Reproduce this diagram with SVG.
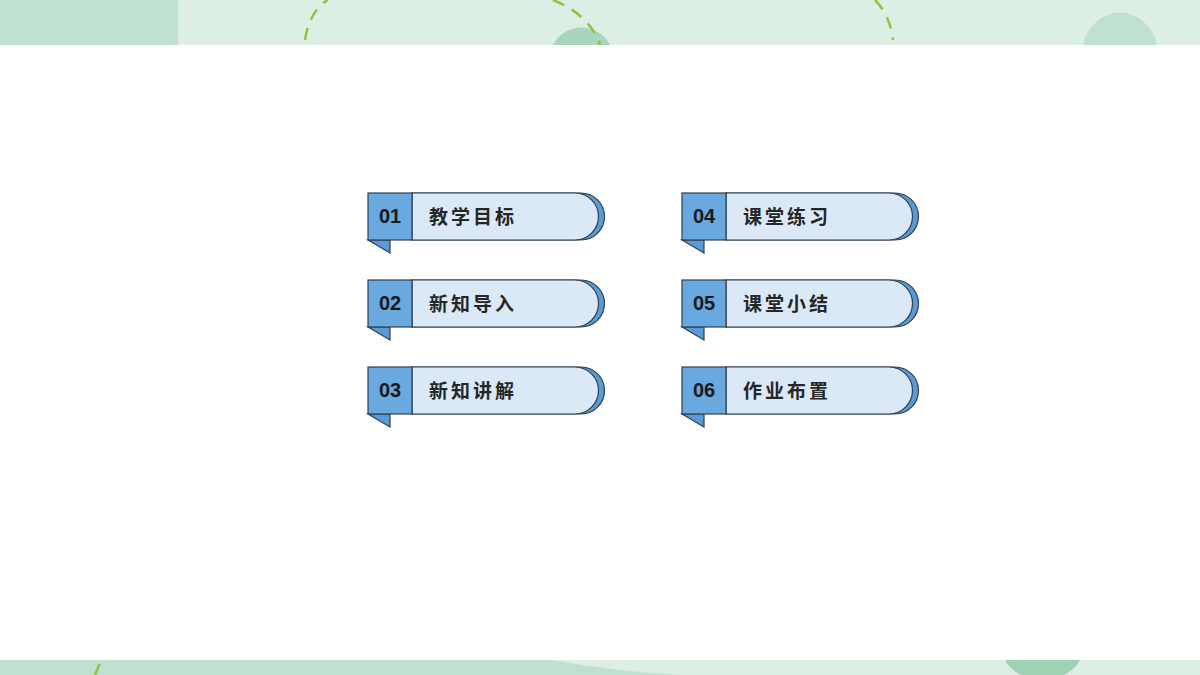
<svg xmlns="http://www.w3.org/2000/svg" width="1200" height="675" viewBox="0 0 1200 675">
<style>
.sh{fill:#5b9bd5;stroke:#2f3e50;stroke-width:1.2}
.pill{fill:#dbe9f7;stroke:#2f3e50;stroke-width:1.2}
.num{fill:#6aa8e0;stroke:#2f3e50;stroke-width:1.2}
.tab{fill:#5b9bd5;stroke:#2f3e50;stroke-width:1.2}
.n{font-family:"Liberation Sans",Arial,sans-serif;font-weight:bold;font-size:20px;fill:#1a1a1a}
.t{font-family:"Noto Sans CJK SC",sans-serif;font-weight:bold;font-size:19px;fill:#262626;letter-spacing:3px}
.d{fill:none;stroke:#8cc63f;stroke-width:2.5;stroke-dasharray:12 9}
</style>
<defs>
<g id="card">
<path class="sh" d="M44 0 H213 A23.5 23.5 0 0 1 213 47 H44 Z"/>
<path class="tab" d="M0 47 L22 60 L22 47 Z"/>
<path class="pill" d="M44 0 H207 A23.5 23.5 0 0 1 207 47 H44 Z"/>
<rect class="num" x="0" y="0" width="44" height="47"/>
</g>
</defs>
<rect width="1200" height="675" fill="#ffffff"/>
<g id="bg">
<rect x="0" y="0" width="1200" height="45" fill="#ddeee5"/>
<rect x="0" y="0" width="178" height="45" fill="#bfe0cf"/>
<path d="M553 45 A32 32 0 0 1 610 45 Z" fill="#a9d5bf"/>
<path d="M1083 45 A38 42 0 0 1 1157 45 Z" fill="#bfe0cf"/>
<path class="d" d="M305 40 Q310 10 328 0"/>
<path class="d" d="M553 0 Q590 15 600 45"/>
<path class="d" d="M875 0 Q890 15 893 40"/>
<rect x="0" y="660" width="1200" height="15" fill="#ddeee5"/>
<path d="M0 660 H550 Q620 672 680 675 H0 Z" fill="#bfe0cf"/>
<path d="M1005 660 H1080 A40 30 0 0 1 1005 660 Z" fill="#9fd2b4"/>
<path class="d" d="M95 675 L100 663"/>
</g>
<g id="node1" transform="translate(368 193)"><use href="#card"/></g>
<g id="node2" transform="translate(368 280)"><use href="#card"/></g>
<g id="node3" transform="translate(368 367)"><use href="#card"/></g>
<g id="node4" transform="translate(682 193)"><use href="#card"/></g>
<g id="node5" transform="translate(682 280)"><use href="#card"/></g>
<g id="node6" transform="translate(682 367)"><use href="#card"/></g>
<g id="labels">
<text class="n" x="390" y="223" text-anchor="middle">01</text><text class="t" x="429" y="224">教学目标</text>
<text class="n" x="390" y="310" text-anchor="middle">02</text><text class="t" x="429" y="311">新知导入</text>
<text class="n" x="390" y="397" text-anchor="middle">03</text><text class="t" x="429" y="398">新知讲解</text>
<text class="n" x="704" y="223" text-anchor="middle">04</text><text class="t" x="743" y="224">课堂练习</text>
<text class="n" x="704" y="310" text-anchor="middle">05</text><text class="t" x="743" y="311">课堂小结</text>
<text class="n" x="704" y="397" text-anchor="middle">06</text><text class="t" x="743" y="398">作业布置</text>
</g>
<g id="connectors"/>
</svg>
